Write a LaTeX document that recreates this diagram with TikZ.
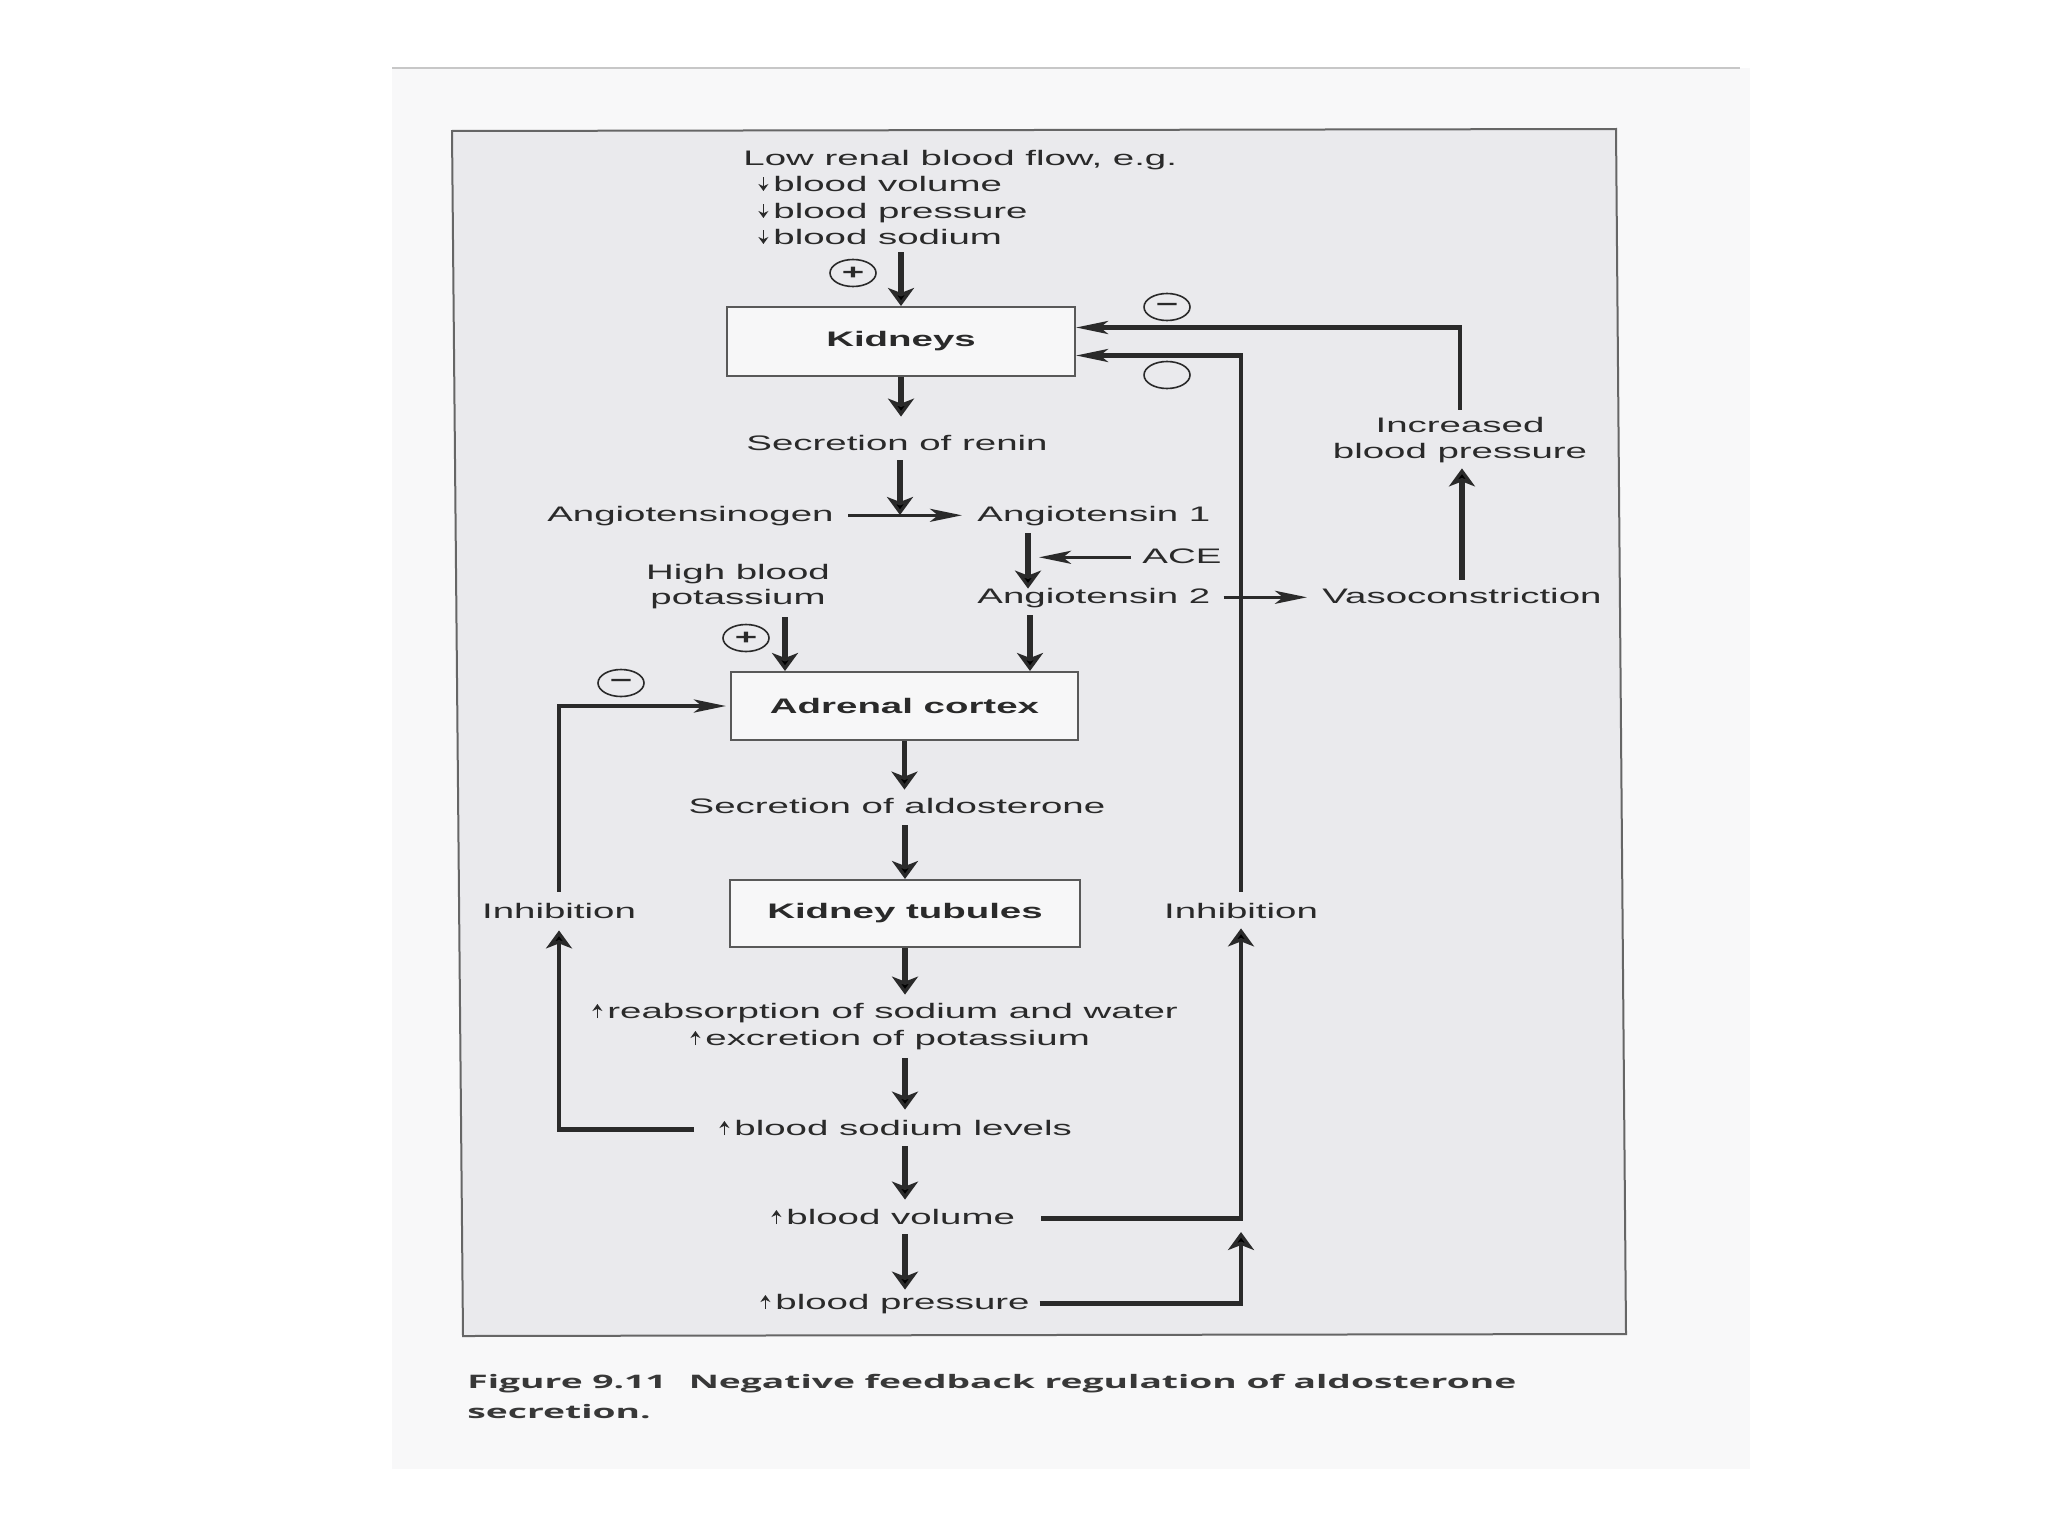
\documentclass[tikz,border=0pt]{standalone}
\usepackage{fontspec}
\usetikzlibrary{arrows.meta,calc,shapes.geometric}
\newfontfamily\dfont[FakeStretch=1.83]{Liberation Sans}
\newfontfamily\cfont[FakeStretch=2.0]{Open Sans}
\definecolor{ink}{RGB}{42,42,42}
\definecolor{pagec}{RGB}{248,248,249}
\definecolor{framec}{RGB}{234,234,237}
\newcommand\dnar{\tikz[baseline=0pt]\draw[ink,line width=0.8pt,-{Stealth[length=3.5pt,width=5pt]}] (0pt,7pt) -- (0pt,0pt);\hspace{2.5pt}}
\newcommand\upar{\tikz[baseline=0pt]\draw[ink,line width=0.8pt,-{Stealth[length=3.5pt,width=5pt]}] (0pt,0pt) -- (0pt,7pt);\hspace{2.5pt}}
\begin{document}
\begin{tikzpicture}[x=0.5pt,y=-0.5pt,
  lbl/.style={font=\dfont\fontsize{10.5pt}{13pt}\selectfont, text=ink, inner sep=0pt, text height=8pt, text depth=2.3pt},
  box/.style={draw=black!65, line width=1pt, fill=white!60!framec, font=\dfont\bfseries\fontsize{10.5pt}{13pt}\selectfont, text=ink, inner sep=0pt},
  sgn/.style={ellipse, draw=ink, line width=0.8pt, minimum width=23pt, minimum height=13.5pt, inner sep=0pt, font=\dfont\bfseries\fontsize{10.5pt}{13pt}\selectfont, text=ink},
  conn/.style={draw=ink},
  vtip/.style={-{Stealth[length=9pt,width=13pt,inset=2.5pt]}},
  htip/.style={-{Stealth[length=16pt,width=6.5pt,inset=4pt]}},
  vconn/.style={conn, vtip, line width=2.6pt},
  hconn/.style={conn, htip, line width=1.8pt},
  econn/.style={conn, line width=2.2pt},
  captxt/.style={font=\cfont\bfseries\fontsize{9.3pt}{15pt}\selectfont, text=black!78, inner sep=0pt, anchor=base west}
]
\useasboundingbox (0,0) rectangle (2048,1536);
\fill[white] (0,0) rectangle (2048,1536);
\fill[pagec] (392,68) rectangle (1750,1469);
\draw[black!22, line width=1pt] (392,68) -- (1740,68);
\filldraw[fill=framec, draw=black!60, line width=1pt] (452,131) -- (1616,129) -- (1626,1334) -- (463,1336) -- cycle;

% texts
\node[lbl,anchor=base west] (l1) at (743,165) {Low renal blood flow, e.g.};
\node[lbl,anchor=base west] (l2) at (758,191) {\dnar blood volume};
\node[lbl,anchor=base west] (l3) at (758,218) {\dnar blood pressure};
\node[lbl,anchor=base west] (l4) at (758,244) {\dnar blood sodium};
\node[box,minimum width=174pt,minimum height=34.5pt] (kid) at (901,341.5) {Kidneys};
\node[lbl,anchor=base] (renin) at (897,450) {Secretion of renin};
\node[lbl,anchor=base east] (agen) at (834,521) {Angiotensinogen};
\node[lbl,anchor=base west] (ang1) at (977,521) {Angiotensin 1};
\node[lbl,anchor=base west] (ace) at (1142,563) {ACE};
\node[lbl,anchor=base] (hb1) at (738,579) {High blood};
\node[lbl,anchor=base] (hb2) at (738,604) {potassium};
\node[lbl,anchor=base west] (ang2) at (977,603) {Angiotensin 2};
\node[lbl,anchor=base west] (vaso) at (1322,603) {Vasoconstriction};
\node[lbl,anchor=base] (ibp1) at (1460,432) {Increased};
\node[lbl,anchor=base] (ibp2) at (1460,458) {blood pressure};
\node[box,minimum width=173.5pt,minimum height=34pt] (adr) at (904.5,706) {Adrenal cortex};
\node[lbl,anchor=base] (aldo) at (897,813) {Secretion of aldosterone};
\node[box,minimum width=175pt,minimum height=33.5pt] (tub) at (905,913.5) {Kidney tubules};
\node[lbl,anchor=base] (inhL) at (559,918) {Inhibition};
\node[lbl,anchor=base] (inhR) at (1241,918) {Inhibition};
\node[lbl,anchor=base west] (reab) at (592,1018) {\upar reabsorption of sodium and water};
\node[lbl,anchor=base west] (excr) at (690,1045) {\upar excretion of potassium};
\node[lbl,anchor=base west] (bsod) at (719,1135) {\upar blood sodium levels};
\node[lbl,anchor=base west] (bvol) at (771,1224) {\upar blood volume};
\node[lbl,anchor=base west] (bpr) at (760,1309) {\upar blood pressure};

% signs
\node[sgn] (s1) at (853,273) {+};
\node[sgn] (s2) at (1167,307) {−};
\node[sgn] (s3) at (1167,375) {};
\node[sgn] (s4) at (746,638) {+};
\node[sgn] (s5) at (621,683) {−};

% helper coordinates
\coordinate (j1) at (900,515);
\coordinate (a1x) at ($(ang1.base west)+(51,0)$);
\coordinate (a2x) at ($(ang2.base west)+(53,0)$);
\coordinate (pk) at ($(adr.north west)+(55,0)$);
\coordinate (kup) at ($(kid.east)+(0,-14)$);
\coordinate (kdn) at ($(kid.east)+(0,14)$);

% connectors
\draw[vconn, shorten <=1.7pt] (kid.north |- l4.south) -- (kid.north);
\draw[vconn, shorten >=8.5pt] (kid.south) -- (kid.south |- renin.north);
\draw[vconn, shorten <=2.7pt] (j1 |- renin.south) -- (j1);
\draw[hconn, shorten <=7pt, shorten >=7.5pt] (agen.east) -- (ang1.west);
\draw[vconn, shorten <=3.7pt, shorten >=-1pt] (a1x |- ang1.south) -- (a1x |- ang2.north);
\draw[hconn, shorten <=5.5pt, shorten >=5.5pt] (ace.west) -- (ace.west -| a1x);
\draw[hconn, shorten <=6.5pt, shorten >=7.5pt] (ang2.east) -- (vaso.west);
\draw[vconn, shorten <=3.5pt, shorten >=2.7pt] (vaso.north) -- (vaso.north |- ibp2.south);
\draw[econn, htip, shorten <=3pt] (ibp1.north) |- (kup);
\draw[econn, htip, shorten <=5pt] (inhR.north) |- (kdn);
\draw[econn, vtip, shorten <=13pt, shorten >=2.7pt] (bvol.east) -| (inhR.south);
\draw[econn, vtip, shorten <=4.75pt, shorten >=6.85pt] (bpr.east) -| (inhR.south |- bvol.east);
\draw[vconn, shorten <=4pt] (pk |- hb2.south) -- (pk);
\draw[vconn, shorten <=3.7pt] (a2x |- ang2.south) -- (a2x |- adr.north);
\draw[econn, htip, shorten <=5pt, shorten >=2pt] (inhL.north) |- (adr.west);
\draw[vconn, shorten >=3.5pt] (adr.south) -- (adr.south |- aldo.north);
\draw[vconn, shorten <=3.7pt] (tub.north |- aldo.south) -- (tub.north);
\draw[vconn, shorten >=3.5pt] (tub.south) -- (tub.south |- reab.north);
\draw[vconn, shorten <=4.2pt, shorten >=4.5pt] (tub.south |- excr.south) -- (tub.south |- bsod.north);
\draw[econn, vtip, shorten <=12.5pt, shorten >=3.7pt] (bsod.west) -| (inhL.south);
\draw[vconn, shorten <=3.2pt, shorten >=4pt] (tub.south |- bsod.south) -- (tub.south |- bvol.north);
\draw[vconn, shorten <=2.7pt, shorten >=1.5pt] (tub.south |- bvol.south) -- (tub.south |- bpr.north);

% caption
\node[captxt] (cap1) at (467,1388) {Figure 9.11\hspace{11pt}Negative feedback regulation of aldosterone};
\node[captxt] (cap2) at (467,1418) {secretion.};
\end{tikzpicture}
\end{document}
